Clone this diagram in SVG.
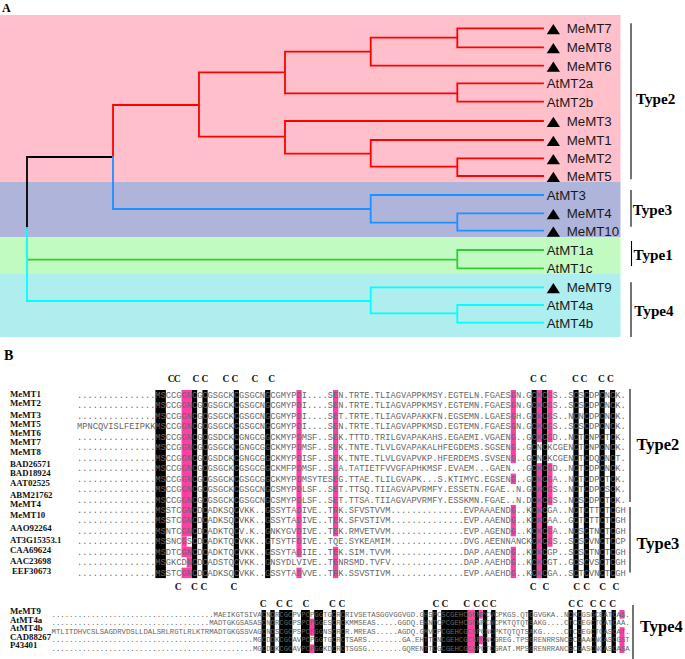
<svg xmlns="http://www.w3.org/2000/svg" width="685" height="659" viewBox="0 0 685 659">
<style>
.e{fill:none;stroke-width:1.8;stroke-linecap:square}
.r{stroke:#FF0000}.b{stroke:#1E90FF}.g{stroke:#32CD32}.c{stroke:#00FFFF}.k{stroke:#000}
.lf{font-family:"Liberation Sans",Arial,sans-serif;font-size:13.3px;fill:#1a1a1a}
.ty{font-family:"Liberation Serif","Times New Roman",serif;font-weight:bold;font-size:15.2px;fill:#000}
.tyB{font-size:16.5px}
.br{stroke:#000;stroke-width:1.1}
.nm{font-family:"Liberation Serif","Times New Roman",serif;font-weight:bold;font-size:8.8px;fill:#111}
.sq{font-family:"Liberation Mono","Courier New",monospace;font-size:8.7px;fill:#666}
.sq4{font-family:"Liberation Mono","Courier New",monospace;font-size:7.3px;fill:#666}
.cl{font-family:"Liberation Serif","Times New Roman",serif;font-weight:bold;font-size:9.5px;text-anchor:middle;fill:#111}
.hk{fill:#000}.hp{fill:#FF3FA4}
.hd{font-family:"Liberation Serif","Times New Roman",serif;font-weight:bold;fill:#000}
</style>
<defs><polygon id="tri" points="0,6 13.3,6 6.65,-4.3" fill="#000"/></defs>
<rect width="685" height="659" fill="#fff"/>
<text class="hd" x="2" y="11.5" font-size="12">A</text>
<g id="bands">
<rect x="0" y="15" width="620.5" height="166.7" fill="#FFC0CB"/>
<rect x="0" y="181.7" width="620.5" height="55.3" fill="#AFB4DB"/>
<rect x="0" y="237" width="620.5" height="37" fill="#C1FBC1"/>
<rect x="0" y="274" width="620.5" height="63" fill="#AFEEEE"/>
</g>
<g id="tree-edges">
<path class="e k" d="M113,157H27V228"/>
<path class="e r" d="M113,157V105H199M199,72.3V136.7M199,72.3H285M285,51.7V93.3M285,51.7H370.7M370.7,37.7V65.7M370.7,37.7H457.3M457.3,28.3V47.3M457.3,28.3H543M457.3,47.3H543M370.7,65.7H543M285,93.3H457.3M457.3,83.3V101.7M457.3,83.3H543M457.3,101.7H543M199,136.7H285M285,121V153.7M285,121H543M285,153.7H370.7M370.7,140V166.7M370.7,140H543M370.7,166.7H457.3M457.3,158.3V176M457.3,158.3H543M457.3,176H543"/>
<path class="e b" d="M113,157V209H370.7M370.7,195V222.7M370.7,195H543M370.7,222.7H457.3M457.3,213.3V230.7M457.3,213.3H543M457.3,230.7H543"/>
<path class="e g" d="M28,259.7H457.3M457.3,250V268.3M457.3,250H543M457.3,268.3H543"/>
<path class="e c" d="M27,228V301H370.7M370.7,287.3V313.3M370.7,287.3H543M370.7,313.3H457.3M457.3,305V322.7M457.3,305H543M457.3,322.7H543"/>
</g>
<g id="leaf-MeMT7"><use href="#tri" x="546.7" y="28.3"/><text class="lf" x="566.7" y="33.1">MeMT7</text></g>
<g id="leaf-MeMT8"><use href="#tri" x="546.7" y="47.3"/><text class="lf" x="566.7" y="52.1">MeMT8</text></g>
<g id="leaf-MeMT6"><use href="#tri" x="546.7" y="65.7"/><text class="lf" x="566.7" y="70.5">MeMT6</text></g>
<g id="leaf-AtMT2a"><text class="lf" x="546.7" y="88.1">AtMT2a</text></g>
<g id="leaf-AtMT2b"><text class="lf" x="546.7" y="106.5">AtMT2b</text></g>
<g id="leaf-MeMT3"><use href="#tri" x="546.7" y="121"/><text class="lf" x="566.7" y="125.8">MeMT3</text></g>
<g id="leaf-MeMT1"><use href="#tri" x="546.7" y="140"/><text class="lf" x="566.7" y="144.8">MeMT1</text></g>
<g id="leaf-MeMT2"><use href="#tri" x="546.7" y="158.3"/><text class="lf" x="566.7" y="163.1">MeMT2</text></g>
<g id="leaf-MeMT5"><use href="#tri" x="546.7" y="176"/><text class="lf" x="566.7" y="180.8">MeMT5</text></g>
<g id="leaf-AtMT3"><text class="lf" x="546.7" y="199.8">AtMT3</text></g>
<g id="leaf-MeMT4"><use href="#tri" x="546.7" y="213.3"/><text class="lf" x="566.7" y="218.1">MeMT4</text></g>
<g id="leaf-MeMT10"><use href="#tri" x="546.7" y="230.7"/><text class="lf" x="566.7" y="235.5">MeMT10</text></g>
<g id="leaf-AtMT1a"><text class="lf" x="546.7" y="254.8">AtMT1a</text></g>
<g id="leaf-AtMT1c"><text class="lf" x="546.7" y="273.1">AtMT1c</text></g>
<g id="leaf-MeMT9"><use href="#tri" x="546.7" y="287.3"/><text class="lf" x="566.7" y="292.1">MeMT9</text></g>
<g id="leaf-AtMT4a"><text class="lf" x="546.7" y="309.8">AtMT4a</text></g>
<g id="leaf-AtMT4b"><text class="lf" x="546.7" y="327.5">AtMT4b</text></g>
<g id="types-A">
<line class="br" x1="631" y1="23.3" x2="631" y2="179.3"/><text class="ty" x="636" y="103.8">Type2</text>
<line class="br" x1="631" y1="190" x2="631" y2="226.7"/><text class="ty" x="632.7" y="214.5">Type3</text>
<line class="br" x1="631.5" y1="241" x2="631.5" y2="266"/><text class="ty" x="633.5" y="259.5">Type1</text>
<line class="br" x1="631" y1="282.3" x2="631" y2="337"/><text class="ty" x="634.3" y="315.5">Type4</text>
</g>
<text class="hd" x="4" y="360" font-size="14">B</text>
<g id="hl-top">
<rect class="hk" x="155.4" y="390" width="10.45" height="188.1"/>
<rect class="hk" x="191.95" y="390" width="5.2" height="188.1"/>
<rect class="hk" x="202.4" y="390" width="5.2" height="188.1"/>
<rect class="hk" x="233.75" y="390" width="5.2" height="188.1"/>
<rect class="hk" x="265.1" y="390" width="5.2" height="188.1"/>
<rect class="hk" x="531.6" y="390" width="5.2" height="188.1"/>
<rect class="hk" x="542" y="390" width="5.2" height="188.1"/>
<rect class="hk" x="573.4" y="390" width="5.2" height="188.1"/>
<rect class="hk" x="583.85" y="390" width="5.2" height="188.1"/>
<rect class="hk" x="599.5" y="390" width="5.2" height="188.1"/>
<rect class="hk" x="610" y="390" width="5.2" height="188.1"/>
<rect class="hp" x="181.5" y="390" width="10.45" height="146.3"/>
<rect class="hp" x="181.5" y="536.3" width="5.2" height="10.45"/>
<rect class="hp" x="181.5" y="546.75" width="10.45" height="10.45"/>
<rect class="hp" x="186.7" y="557.2" width="5.2" height="10.45"/>
<rect class="hp" x="181.5" y="567.65" width="10.45" height="10.45"/>
<rect class="hp" x="296.45" y="390" width="5.2" height="167.2"/>
<rect class="hp" x="296.45" y="567.65" width="5.2" height="10.45"/>
<rect class="hp" x="333" y="390" width="5.2" height="146.3"/>
<rect class="hp" x="333" y="546.75" width="5.2" height="31.35"/>
<rect class="hp" x="510.7" y="390" width="5.2" height="73.15"/>
<rect class="hp" x="510.7" y="473.6" width="5.2" height="10.45"/>
<rect class="hp" x="510.7" y="504.95" width="5.2" height="31.35"/>
<rect class="hp" x="510.7" y="546.75" width="5.2" height="31.35"/>
<rect class="hp" x="536.8" y="390" width="5.2" height="52.25"/>
<rect class="hp" x="536.8" y="463.15" width="5.2" height="114.95"/>
<rect class="hp" x="547.25" y="390" width="5.2" height="52.25"/>
<rect class="hp" x="547.25" y="463.15" width="5.2" height="41.8"/>
<rect class="hp" x="547.25" y="525.85" width="5.2" height="20.9"/>
</g>
<g id="c-labels-top">
<text class="cl" x="171.2" y="382">C</text><text class="cl" x="177.2" y="382">C</text>
<text class="cl" x="196" y="382">C</text><text class="cl" x="205" y="382">C</text>
<text class="cl" x="226" y="382">C</text><text class="cl" x="235" y="382">C</text>
<text class="cl" x="255" y="382">C</text><text class="cl" x="271.7" y="382">C</text>
<text class="cl" x="533.5" y="382">C</text><text class="cl" x="543.5" y="382">C</text>
<text class="cl" x="575.5" y="382">C</text><text class="cl" x="584" y="382">C</text>
<text class="cl" x="601.5" y="382">C</text><text class="cl" x="610.5" y="382">C</text>
</g>
<g id="seq-top">
<text class="sq" x="77" y="398" textLength="548.6" lengthAdjust="spacing">...............MSCCGGNCGCGSGCKCGSGCNGCGMYPDI....SEN.TRTE.TLIAGVAPPKMSY.EGTELN.FGAESGN.GCKCGS..SCSCDPCNCK.</text>
<text class="sq" x="77" y="408.45" textLength="548.6" lengthAdjust="spacing">...............MSCCGGNCGCGSGCKCGSGCNGCGMYPDI....SEN.TRTE.TLIAGVAPPKMSY.EGTEMN.FGAESGN.GCKCGS..SCSCDPCNCK.</text>
<text class="sq" x="77" y="418.9" textLength="548.6" lengthAdjust="spacing">...............MSCCGGNCGCGSGCKCGSGCNGCGMYPDI....SET.TRTE.TLIAGVAPAKKFN.EGSEMN.LGAESGH.GCKCGS..NCNCDPCNCK.</text>
<text class="sq" x="77" y="429.35" textLength="548.6" lengthAdjust="spacing">MPNCQVISLFEIPKKMSCCGGNCGCGSGCKCGSGCNGCGMYPDI....SEN.TRTE.TLIAGVAPPKMSD.EGTEMN.FGAESGN.GCKCGS..SCSCDPCNCK.</text>
<text class="sq" x="77" y="439.8" textLength="548.6" lengthAdjust="spacing">...............MSCCGGNCGCGSDCKCGNGCGGCKMYPDMSF..SEK.TTTD.TRILGVAPAKAHS.EGAEMI.VGAENG..GCKCGD..NCTCNPCTCK.</text>
<text class="sq" x="77" y="450.25" textLength="548.6" lengthAdjust="spacing">...............MSCCGGNCGCGSGCKCGNGCGGCKMYPDMSF..SEK.TNTE.TLVLGVAPAKALHFEGDEMS.SGSENG..GCNCKCGENCTCNPCNCK.</text>
<text class="sq" x="77" y="460.7" textLength="548.6" lengthAdjust="spacing">...............MSCCGGNCGCGSDCKCGNGCGGCKMYPDISF..SEK.TNTE.TLVLGVAPVKP.HFERDEMS.SVSENG..GCNCKCGENCTCDQCNCT.</text>
<text class="sq" x="77" y="471.15" textLength="548.6" lengthAdjust="spacing">...............MSCCGGNCGCGSGCKCGSGCGGCKMFPDMSF..SEA.TATIETFVVGFAPHKMSF.EVAEM...GAEN...GCKCGD..NCTCDPCNCK.</text>
<text class="sq" x="77" y="481.6" textLength="548.6" lengthAdjust="spacing">...............MSCCGGNCGCGSGCKCGSGCGGCKMYPDMSYTESEG.TTAE.TLILGVAPK...S.KTIMYC.EGSENG..GCKCGA..NCTCDPCTCK.</text>
<text class="sq" x="77" y="492.05" textLength="548.6" lengthAdjust="spacing">...............MSCCGGNCGCGSGCKCGSGCNGCSMYPDLSF..SET.TTSQ.TIIAGVAPVRMFY.ESSETN.FGAE..N.GCKCGS..NCTCDPCSCK.</text>
<text class="sq" x="77" y="502.5" textLength="548.6" lengthAdjust="spacing">...............MSCCGGNCGCGSGCKCGSGCNGCSMYPDLSF..SET.TTSA.TIIAGVAPVRMFY.ESSKMN.FGAE..N.DCKCGS..NCSCDPCTCK.</text>
<text class="sq" x="77" y="512.95" textLength="548.6" lengthAdjust="spacing">...............MSSTCGNCDCADKSQCVKK..GSSYTADIVE..TRK.SFVSTVVM..............EVPAAAENDG..KCKCGA..NCTCTTCTCGH</text>
<text class="sq" x="77" y="523.4" textLength="548.6" lengthAdjust="spacing">...............MSSTCGNCDCADKSQCVKK..GSSYTADIVE..TEK.SFVSTIVM..............EVP.AAENDG..KCKCAA..GCTCTTCTCGH</text>
<text class="sq" x="77" y="533.85" textLength="548.6" lengthAdjust="spacing">...............MSNTCGNCDCADKTQCV.K..GNKYGVDIVE..TEK.RMVETVVM..............EVP.AGENDG..KCKCGA..NCSCTNCTCGH</text>
<text class="sq" x="77" y="544.3" textLength="548.6" lengthAdjust="spacing">...............MSSNCGSCDCADKTQCVKK..GTSYTFDIVE..TQE.SYKEAMIM..............DVG.AEENNANCKCKCGS..SCSCVNCTCCP</text>
<text class="sq" x="77" y="554.75" textLength="548.6" lengthAdjust="spacing">...............MSDTCGNCDCADKTQCVKK..GSSYTADIIE..TEK.SIM.TVVM..............DAP.AAENDG..KCKCGP..SCSCTNCTCGH</text>
<text class="sq" x="77" y="565.2" textLength="548.6" lengthAdjust="spacing">...............MSGKCDNCDCADSTQCVKK..GNSYDLVIVE..TENRSMD.TVFV..............DAP.AAEHDG..KCKCGT..GCSCVSCTCGH</text>
<text class="sq" x="77" y="575.65" textLength="548.6" lengthAdjust="spacing">...............MSSTCGNCDCADKSQCVKK..GSSYTADVVE..TRK.SSVSTIVM..............EVP.AAEHDG..KCKCGA..SCTCVNCTCGH</text>
</g>
<g id="names-top">
<text class="nm" x="10" y="397">MeMT1</text>
<text class="nm" x="10" y="406">MeMT2</text>
<text class="nm" x="10" y="417.5">MeMT3</text>
<text class="nm" x="10" y="426.5">MeMT5</text>
<text class="nm" x="10" y="435.5">MeMT6</text>
<text class="nm" x="10" y="444.5">MeMT7</text>
<text class="nm" x="10" y="455">MeMT8</text>
<text class="nm" x="10" y="466.5">BAD26571</text>
<text class="nm" x="10" y="475.5">BAD18924</text>
<text class="nm" x="10" y="486">AAT02525</text>
<text class="nm" x="10" y="497.5">ABM21762</text>
<text class="nm" x="10" y="506.5">MeMT4</text>
<text class="nm" x="10" y="517.5">MeMT10</text>
<text class="nm" x="10" y="530.5">AAO92264</text>
<text class="nm" x="10" y="543">AT3G15353.1</text>
<text class="nm" x="10" y="553">CAA69624</text>
<text class="nm" x="10" y="563.5">AAC23698</text>
<text class="nm" x="12" y="574">EEF30673</text>
</g>
<g id="c-labels-mid">
<text class="cl" x="178.3" y="590">C</text><text class="cl" x="194.5" y="590">C</text>
<text class="cl" x="204" y="590">C</text><text class="cl" x="234" y="590">C</text>
<text class="cl" x="533.3" y="590">C</text><text class="cl" x="546" y="590">C</text>
<text class="cl" x="576.7" y="590">C</text><text class="cl" x="586.7" y="590">C</text>
<text class="cl" x="602.7" y="590">C</text><text class="cl" x="616" y="590">C</text>
</g>
<g id="types-B">
<line class="br" x1="630" y1="389" x2="630" y2="502"/><text class="ty tyB" x="636.5" y="450">Type2</text>
<line class="br" x1="630" y1="507" x2="630" y2="572.5"/><text class="ty tyB" x="636.5" y="549">Type3</text>
<line class="br" x1="633" y1="605" x2="633" y2="659"/><text class="ty tyB" x="640" y="632">Type4</text>
</g>
<g id="hl-type4">
<rect class="hk" x="261.5" y="610" width="4.4" height="43"/>
<rect class="hk" x="270.3" y="610" width="4.4" height="43"/>
<rect class="hk" x="279.2" y="610" width="13.1" height="43"/>
<rect class="hk" x="301" y="610" width="8.8" height="43"/>
<rect class="hk" x="314.2" y="610" width="8.8" height="43"/>
<rect class="hk" x="331.7" y="610" width="4.4" height="43"/>
<rect class="hk" x="340.5" y="610" width="4.4" height="43"/>
<rect class="hk" x="423.5" y="610" width="4.4" height="43"/>
<rect class="hk" x="432.5" y="610" width="4.4" height="43"/>
<rect class="hk" x="441.2" y="610" width="26.5" height="43"/>
<rect class="hk" x="474.5" y="610" width="4.4" height="43"/>
<rect class="hk" x="482.8" y="610" width="4.4" height="43"/>
<rect class="hk" x="491.1" y="610" width="4.4" height="43"/>
<rect class="hk" x="528.3" y="610" width="4.4" height="43"/>
<rect class="hk" x="568.5" y="610" width="4.4" height="43"/>
<rect class="hk" x="577" y="610" width="4.4" height="43"/>
<rect class="hk" x="592" y="610" width="4.4" height="43"/>
<rect class="hk" x="601.5" y="610" width="4.4" height="43"/>
<rect class="hk" x="611.5" y="610" width="4.4" height="43"/>
<rect class="hp" x="309.8" y="618.6" width="4.4" height="17.2"/>
<rect class="hp" x="309.8" y="644.4" width="4.4" height="8.6"/>
<rect class="hp" x="467.7" y="610" width="6.8" height="43"/>
<rect class="hp" x="478.9" y="610" width="3.9" height="8.6"/>
<rect class="hp" x="478.9" y="635.8" width="3.9" height="8.6"/>
<rect class="hp" x="619.5" y="610" width="5" height="8.6"/>
<rect class="hp" x="619.5" y="627.2" width="5" height="25.8"/>
</g>
<g id="c-labels-type4">
<text class="cl" x="263.3" y="606.5">C</text><text class="cl" x="279.5" y="606.5">C</text>
<text class="cl" x="289.5" y="606.5">C</text><text class="cl" x="306" y="606.5">C</text>
<text class="cl" x="332.5" y="606.5">C</text><text class="cl" x="342" y="606.5">C</text>
<text class="cl" x="436" y="606.5">C</text><text class="cl" x="445" y="606.5">C</text>
<text class="cl" x="466.7" y="606.5">C</text><text class="cl" x="476.7" y="606.5">C</text>
<text class="cl" x="485" y="606.5">C</text><text class="cl" x="493.3" y="606.5">C</text>
<text class="cl" x="571.7" y="606.5">C</text><text class="cl" x="580" y="606.5">C</text>
<text class="cl" x="593.3" y="606.5">C</text><text class="cl" x="602.7" y="606.5">C</text>
<text class="cl" x="612.7" y="606.5">C</text>
</g>
<g id="seq-type4">
<text class="sq4" x="51.5" y="616.5" textLength="578.2" lengthAdjust="spacing">.....................................MAEIKGTSIVACNDRCGCPVPCPGGTGCRCRIVSETASGGVGGVGD.GHSPCSCGEHCGCNPCVCPKGS.QTGGVGKA..NCKCGSGCEATCAS.</text>
<text class="sq4" x="51.5" y="625.1" textLength="578.2" lengthAdjust="spacing">....................................MADTGKGSASASCNDRCGCPSPCPGGESCRCKMMSEAS.....GGDQ.EHNTCPCGEHCGCNPCNCPKTQTQTSAKG....CTCGEGCTCATCAA.</text>
<text class="sq4" x="51.5" y="633.7" textLength="578.2" lengthAdjust="spacing">MTLITDHVCSLSAGDRVDSLLDALSRLRGTLRLKTRMADTGKGSSVAGCNDSCGCPSPCPGGNSCRCR.MREAS.....AGDQ.GMVCPCGEHCGCNPCNCPKTQTQTSAKG.....CTCGEGCTCASCAT.</text>
<text class="sq4" x="51.5" y="642.3" textLength="578.2" lengthAdjust="spacing">..............................................MGCDDKCGCAVPCPGGTGCRCTSARS........GA.EHTTCNCGEHCGCNPCNCGREG.TPSGRENRRSNCSCGAACNCASCGST</text>
<text class="sq4" x="51.5" y="650.9" textLength="578.2" lengthAdjust="spacing">..............................................MGCDDKCGCAVPCPGGKDCRCTSGSG........GQRENTTCGCGEHCGCSPCTCGRAT.MPSGRENRRANCSCGASCNCASCASA</text>
</g>
<g id="names-type4">
<text class="nm" x="10" y="614">MeMT9</text>
<text class="nm" x="10" y="622.5">AtMT4a</text>
<text class="nm" x="10" y="631">AtMT4b</text>
<text class="nm" x="10" y="639.5">CAD88267</text>
<text class="nm" x="10" y="648">P43401</text>
</g>
</svg>
